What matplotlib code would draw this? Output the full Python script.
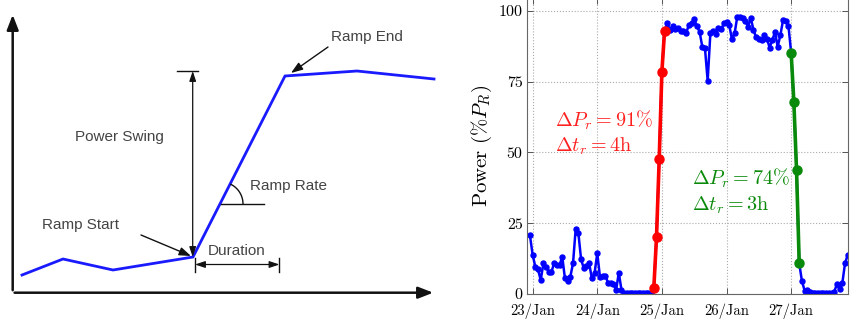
import numpy as np
import matplotlib.pyplot as plt

plt.rcParams['mathtext.fontset'] = 'cm'
plt.rcParams['axes.formatter.use_mathtext'] = True

# schematic ramp curve (drawing units, y grows downward)
sketch_x = [22, 63, 113, 193, 285, 357, 434]
sketch_y = [275, 259, 270, 257, 76, 71, 79]

# hourly wind power, % of rated, first sample at 22/Jan 23:00
start_hour = -1
power = [
    20.7, 13.9, 9.6, 8.7, 4.9, 10.8, 9.6, 7.9, 7.9, 10.8, 10.2, 10.2,
    13.2, 5.5, 4.7, 6.1, 10.8, 23.1, 21.4, 12.2, 9.1, 9.9, 10.8, 5.5,
    7.3, 14.4, 6.1, 6.4, 6.4, 4.0, 3.8, 3.5, 1.4, 7.5, 1.4, 0.5,
    0.4, 0.3, 0.3, 0.2, 0.3, 0.3, 0.3, 0.2, 0.3, 0.4,
    2.0, 20.0, 47.5, 78.5, 93.0,
    95.5, 93.2, 94.6, 93.4, 93.8, 92.8, 93.0, 92.0, 95.0, 95.8, 97.0, 94.6,
    92.6, 87.3, 86.7, 75.3, 92.0, 93.0, 91.8, 94.0, 93.4, 95.5, 96.1, 95.0,
    90.0, 92.0, 97.9, 97.9, 97.3, 96.5, 94.4, 97.6, 93.2, 90.6, 90.0, 89.6,
    91.4, 90.2, 87.0, 89.6, 92.5, 87.3, 91.4, 96.7, 96.5, 94.6,
    85.2, 67.9, 43.8, 10.8,
    4.6, 1.2, 1.4, 0.7, 0.3, 0.3, 0.3, 0.3, 0.3, 0.3, 0.3, 0.3,
    0.8, 3.5, 1.6, 3.8, 10.8, 13.8,
]
ramp_up = (45, 49)     # first and last hour of the up-ramp
ramp_down = (96, 99)   # first and last hour of the down-ramp
day_ticks = [0, 24, 48, 72, 96]
day_labels = ['23/Jan', '24/Jan', '25/Jan', '26/Jan', '27/Jan']
power_ticks = [0, 25, 50, 75, 100]

hours = np.arange(len(power)) + start_hour
power = np.array(power)

fig = plt.figure(figsize=(8.53, 3.22), dpi=100)

# ---- left: ramp definition sketch ----
ax1 = fig.add_axes([0, 0, 440 / 853, 1])
ax1.set_xlim(0, 440)
ax1.set_ylim(322, 0)
ax1.axis('off')

ink = '#111111'
txt = dict(color='#444444', fontsize=11, family='Liberation Sans', va='center')
ax1.annotate('', xy=(12.7, 12), xytext=(12.7, 293),
             arrowprops=dict(arrowstyle='-|>,head_length=0.9,head_width=0.35', color=ink, lw=1.8))
ax1.annotate('', xy=(436, 292.7), xytext=(11.8, 292.7),
             arrowprops=dict(arrowstyle='-|>,head_length=0.9,head_width=0.35', color=ink, lw=1.8))

ax1.plot(sketch_x, sketch_y, color='#1a1aff', lw=2.0, solid_joinstyle='miter')

# power swing
ax1.plot([177, 198.5], [70.7, 70.7], color=ink, lw=1.0)
ax1.annotate('', xy=(192.7, 71), xytext=(192.7, 257),
             arrowprops=dict(arrowstyle='<|-|>,head_length=0.6,head_width=0.2', color=ink, lw=0.9,
                             shrinkA=0, shrinkB=0))
ax1.text(75, 137, 'Power Swing', **txt)

# ramp end
ax1.annotate('', xy=(291, 73), xytext=(328, 47),
             arrowprops=dict(arrowstyle='-|>,head_length=0.7,head_width=0.25', color=ink, lw=1.0,
                             shrinkA=0, shrinkB=0))
ax1.text(331, 37, 'Ramp End', **txt)

# ramp start
ax1.annotate('', xy=(191, 256), xytext=(141, 235),
             arrowprops=dict(arrowstyle='-|>,head_length=0.7,head_width=0.25', color=ink, lw=1.0,
                             shrinkA=0, shrinkB=0))
ax1.text(42, 225, 'Ramp Start', **txt)

# ramp rate angle
ax1.plot([221, 264], [204, 204], color=ink, lw=1.0)
ang = np.linspace(0, np.degrees(np.arctan2(257 - 76, 285 - 193)), 30)
ax1.plot(221 + 22 * np.cos(np.radians(ang)), 204 - 22 * np.sin(np.radians(ang)), color=ink, lw=1.0)
ax1.text(250, 186, 'Ramp Rate', **txt)

# duration
ax1.plot([195, 195], [258, 272], color=ink, lw=1.0)
ax1.plot([279.5, 279.5], [258, 272], color=ink, lw=1.0)
ax1.annotate('', xy=(195, 264.5), xytext=(279.5, 264.5),
             arrowprops=dict(arrowstyle='<|-|>,head_length=0.6,head_width=0.2', color=ink, lw=0.9,
                             shrinkA=0, shrinkB=0))
ax1.text(208, 251, 'Duration', **txt)

# ---- right: measured ramps ----
ax2 = fig.add_axes([526.7 / 853, 1 - 294 / 322, 321 / 853, 296 / 322])
ax2.plot(hours, power, color='#0000ff', lw=1.8, marker='o', ms=3.6, zorder=2)

up = (hours >= ramp_up[0]) & (hours <= ramp_up[1])
down = (hours >= ramp_down[0]) & (hours <= ramp_down[1])
ax2.plot(hours[up], power[up], color='#ff0000', lw=2.6, marker='o', ms=6.5, zorder=3)
ax2.plot(hours[down], power[down], color='#0a8a0a', lw=2.6, marker='o', ms=6.5, zorder=3)

dp_up = power[up][-1] - power[up][0]
dt_up = ramp_up[1] - ramp_up[0]
dp_down = power[down][0] - power[down][-1]
dt_down = ramp_down[1] - ramp_down[0]

fs = 14.5
ax2.text(8.3, 61.5, r'$\Delta P_r = %d\%%$' % round(dp_up), color='#ff2020', fontsize=fs, va='center')
ax2.text(8.3, 52.0, r'$\Delta t_r = %d\mathrm{h}$' % dt_up, color='#ff2020', fontsize=fs, va='center')
ax2.text(59.3, 40.8, r'$\Delta P_r = %d\%%$' % round(dp_down), color='#0a8a0a', fontsize=fs, va='center')
ax2.text(59.3, 31.3, r'$\Delta t_r = %d\mathrm{h}$' % dt_down, color='#0a8a0a', fontsize=fs, va='center')

ax2.set_xlim(-2.2, 117)
ax2.set_ylim(0, 104.5)
ax2.set_xticks(day_ticks)
ax2.set_xticklabels(day_labels, family='cmr10', fontsize=10.5)
ax2.set_yticks(power_ticks)
ax2.set_yticklabels([str(t) for t in power_ticks], family='cmr10', fontsize=11.5)
ax2.tick_params(direction='in', top=True, right=True, length=4, width=0.7, color='#555555', pad=3)
ax2.tick_params(axis='x', pad=7)
ax2.set_ylabel(r'$\mathrm{Power}\ (\%P_R)$', fontsize=15, labelpad=3)
ax2.grid(True, linestyle=':', color='#aaaaaa', lw=0.8)
for s in ax2.spines.values():
    s.set_color('#666666')
    s.set_linewidth(0.8)

fig.savefig('out.png', dpi=100)
